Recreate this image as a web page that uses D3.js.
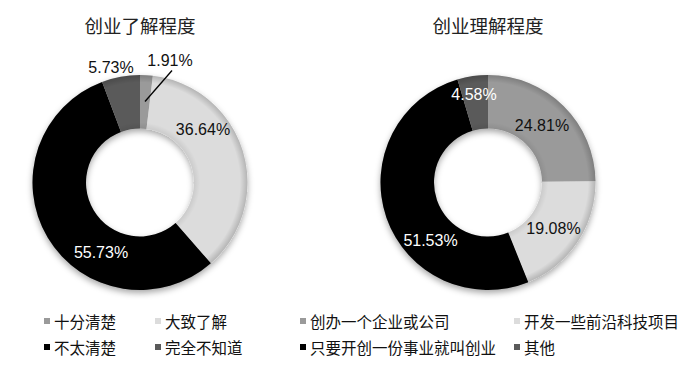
<!DOCTYPE html>
<html>
<head>
<meta charset="utf-8">
<script src="https://cdn.jsdelivr.net/npm/d3@7"></script>
<style>
  body { margin: 0; background: #fff; }
  svg { display: block; font-family: "Liberation Sans", Arial, sans-serif; }
  .title, .legend text { font-family: "Noto Sans CJK SC", sans-serif; }
</style>
</head>
<body>
<div id="chart"></div>
<script>
// chart data
var leftTitle = "创业了解程度";
var leftCategories = ["十分清楚", "大致了解", "不太清楚", "完全不知道"];
var leftValues = [1.91, 36.64, 55.73, 5.73];

var rightTitle = "创业理解程度";
var rightCategories = ["创办一个企业或公司", "开发一些前沿科技项目", "只要开创一份事业就叫创业", "其他"];
var rightValues = [24.81, 19.08, 51.53, 4.58];

var sliceColors = ["#9a9a9a", "#dcdcdc", "#000000", "#5a5a5a"];
var labelColors = ["#111", "#111", "#fff", "#fff"];

var width = 700, height = 366;
var outerR = 107.5, innerR = 54;

var svg = d3.select("#chart").append("svg")
    .attr("width", width)
    .attr("height", height);

var defs = svg.append("defs");
defs.append("filter").attr("id", "shadow")
    .attr("x", "-20%").attr("y", "-20%").attr("width", "140%").attr("height", "140%")
  .append("feDropShadow")
    .attr("dx", 0).attr("dy", 3)
    .attr("stdDeviation", 3)
    .attr("flood-color", "#000")
    .attr("flood-opacity", 0.35);

// soft rim shading like the original's bevel
var rim = defs.append("radialGradient").attr("id", "rim")
    .attr("cx", "50%").attr("cy", "50%").attr("r", "50%");
rim.append("stop").attr("offset", "0.5").attr("stop-color", "#000").attr("stop-opacity", 0.08);
rim.append("stop").attr("offset", "0.56").attr("stop-color", "#000").attr("stop-opacity", 0);
rim.append("stop").attr("offset", "0.93").attr("stop-color", "#000").attr("stop-opacity", 0);
rim.append("stop").attr("offset", "1").attr("stop-color", "#000").attr("stop-opacity", 0.18);

var pie = d3.pie().sort(null).value(function(d) { return d; });
var arc = d3.arc().innerRadius(innerR).outerRadius(outerR);

function drawDonut(cx, cy, title, values, labelOffsets, leader) {
  var g = svg.append("g").attr("transform", "translate(" + cx + "," + cy + ")");

  svg.append("text")
      .attr("class", "title")
      .attr("x", cx)
      .attr("y", 33)
      .attr("text-anchor", "middle")
      .attr("font-size", 18.5)
      .attr("fill", "#222")
      .text(title);

  var arcs = pie(values);

  var slices = g.append("g").attr("filter", "url(#shadow)");
  slices.selectAll("path")
      .data(arcs)
      .enter().append("path")
      .attr("d", arc)
      .attr("fill", function(d, i) { return sliceColors[i]; });

  g.append("path")
      .attr("d", d3.arc().innerRadius(innerR).outerRadius(outerR).startAngle(0).endAngle(2 * Math.PI)())
      .attr("fill", "url(#rim)")
      .attr("pointer-events", "none");

  if (leader) {
    g.append("line")
        .attr("x1", leader[0]).attr("y1", leader[1])
        .attr("x2", leader[2]).attr("y2", leader[3])
        .attr("stroke", "#000")
        .attr("stroke-width", 1.3);
  }

  g.selectAll("text.lbl")
      .data(arcs)
      .enter().append("text")
      .attr("class", "lbl")
      .attr("x", function(d, i) { return labelOffsets[i][0]; })
      .attr("y", function(d, i) { return labelOffsets[i][1]; })
      .attr("text-anchor", "middle")
      .attr("dominant-baseline", "central")
      .attr("font-size", 16)
      .attr("fill", function(d, i) { return labelOffsets[i][2] || labelColors[i]; })
      .text(function(d) { return d.data.toFixed(2) + "%"; });
}

// label offsets relative to each donut centre
drawDonut(140, 182.5, leftTitle, leftValues,
  [[30, -122, "#111"], [63, -53], [-39, 70], [-29, -115, "#111"]],
  [32, -112, 5, -81]);
drawDonut(488, 182.5, rightTitle, rightValues,
  [[54, -57], [65.5, 46], [-57.5, 58], [-14, -88]],
  null);

// legends
function drawLegend(x0, x1, y0, y1, cats) {
  var lg = svg.append("g").attr("class", "legend");
  var pos = [[x0, y0], [x1, y0], [x0, y1], [x1, y1]];
  var items = lg.selectAll("g")
      .data(cats)
      .enter().append("g")
      .attr("transform", function(d, i) { return "translate(" + pos[i][0] + "," + pos[i][1] + ")"; });
  items.append("rect")
      .attr("x", 0).attr("y", -3)
      .attr("width", 6).attr("height", 6)
      .attr("fill", function(d, i) { return sliceColors[i]; });
  items.append("text")
      .attr("x", 10)
      .attr("y", 0)
      .attr("dominant-baseline", "central")
      .attr("font-size", 15.5)
      .attr("fill", "#111")
      .text(function(d) { return d; });
}

drawLegend(44, 155, 321, 347, leftCategories);
drawLegend(300, 514, 321, 347, rightCategories);
</script>
</body>
</html>
